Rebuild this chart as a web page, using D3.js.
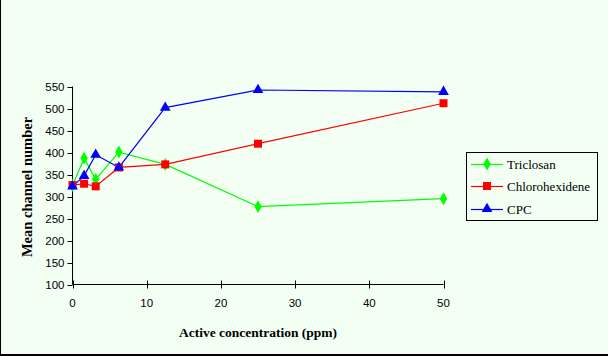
<!DOCTYPE html>
<html><head><meta charset="utf-8">
<script src="https://cdn.jsdelivr.net/npm/d3@7"></script>
<style>
html,body{margin:0;padding:0;background:#f4fff4;}
svg{display:block;}
</style></head>
<body>
<script>
const concentrations = [0, 1.5625, 3.125, 6.25, 12.5, 25, 50];
const triclosan = [325, 387, 339, 401, 373, 277, 295];
const chlorohexidene = [326, 329, 323, 366, 373, 420, 512];
const cpc = [323, 347, 395, 366, 502, 542, 538];
const seriesNames = ["Triclosan", "Chlorohexidene", "CPC"];
const xTicks = [0, 10, 20, 30, 40, 50];
const yTicks = [100,150,200,250,300,350,400,450,500,550];

const W = 608, H = 356;
const svg = d3.select("body").append("svg").attr("width", W).attr("height", H);
svg.append("rect").attr("width", W).attr("height", H).attr("fill", "#f4fff4");
// frame: left and bottom edges
svg.append("line").attr("x1",0.5).attr("x2",0.5).attr("y1",0).attr("y2",H).attr("stroke","#000").attr("stroke-width",1);
svg.append("line").attr("x1",0).attr("x2",W).attr("y1",355).attr("y2",355).attr("stroke","#000").attr("stroke-width",2);

const x = d3.scaleLinear().domain([0,50]).range([72.5, 443.5]);
const y = d3.scaleLinear().domain([100,550]).range([284.5, 86.5]);

// y axis
const ya = svg.append("g").attr("transform","translate(72.5,0)");
ya.append("line").attr("x1",0).attr("x2",0).attr("y1",y(550)).attr("y2",y(100)).attr("stroke","#000");
yTicks.forEach(t=>{
  ya.append("line").attr("x1",-5).attr("x2",0).attr("y1",Math.round(y(t))+0.5).attr("y2",Math.round(y(t))+0.5).attr("stroke","#000");
  ya.append("text").attr("x",-8).attr("y",y(t)).attr("dy","0.35em").attr("text-anchor","end")
    .attr("font-family","Liberation Sans, Arial, sans-serif").attr("font-size",11.5).attr("fill","#000").text(t);
});
// x axis
const xa = svg.append("g");
xa.append("line").attr("x1",x(0)).attr("x2",x(50)).attr("y1",y(100)).attr("y2",y(100)).attr("stroke","#000");
xTicks.forEach(t=>{
  const px = Math.round(x(t))+0.5;
  xa.append("line").attr("x1",px).attr("x2",px).attr("y1",y(100)-4).attr("y2",y(100)+4).attr("stroke","#000");
  xa.append("text").attr("x",x(t)).attr("y",303).attr("dy","0.35em").attr("text-anchor","middle")
    .attr("font-family","Liberation Sans, Arial, sans-serif").attr("font-size",11.5).attr("fill","#000").text(t);
});

// titles
svg.append("text").attr("x",258).attr("y",332).attr("dy","0.35em").attr("text-anchor","middle")
  .attr("font-family","Liberation Serif, Times New Roman, serif").attr("font-weight","bold").attr("font-size",13.5).text("Active concentration (ppm)");
svg.append("text").attr("transform","translate(27,187) rotate(-90)").attr("dy","0.35em").attr("text-anchor","middle")
  .attr("font-family","Liberation Serif, Times New Roman, serif").attr("font-weight","bold").attr("font-size",14.5).text("Mean channel number");

const series = [
  {name: seriesNames[0], values: triclosan, color: "#00ff00", sym: d3.symbolDiamond, size: 48},
  {name: seriesNames[1], values: chlorohexidene, color: "#ff0000", sym: d3.symbolSquare, size: 64},
  {name: seriesNames[2], values: cpc, color: "#0000ff", sym: d3.symbolTriangle, size: 50},
];
const line = d3.line().x((d,i)=>x(concentrations[i])).y(d=>y(d));
// draw in order: triclosan, chlorohexidene, cpc
series.forEach(s=>{
  svg.append("path").attr("d", line(s.values)).attr("fill","none").attr("stroke", s.color).attr("stroke-width",1.2);
});
series.forEach(s=>{
  svg.selectAll(null).data(s.values).enter().append("path")
    .attr("d", d3.symbol().type(s.sym).size(s.size))
    .attr("transform",(d,i)=>`translate(${x(concentrations[i])},${y(d)})`)
    .attr("fill", s.color);
});

// legend
const lg = svg.append("g");
lg.append("rect").attr("x",466.5).attr("y",152.5).attr("width",131).attr("height",68)
  .attr("fill","none").attr("stroke","#000").attr("stroke-width",1);
const ly = [164, 186, 209];
series.forEach((s,i)=>{
  lg.append("line").attr("x1",471).attr("x2",503).attr("y1",ly[i]+0.5).attr("y2",ly[i]+0.5).attr("stroke",s.color).attr("stroke-width",1.2);
  lg.append("path").attr("d", d3.symbol().type(s.sym).size(s.size)).attr("transform",`translate(487,${ly[i]})`).attr("fill",s.color);
  lg.append("text").attr("x",507).attr("y",ly[i]).attr("dy","0.35em")
    .attr("font-family","Liberation Serif, Times New Roman, serif").attr("font-size",13).text(s.name);
});
</script>
</body></html>
